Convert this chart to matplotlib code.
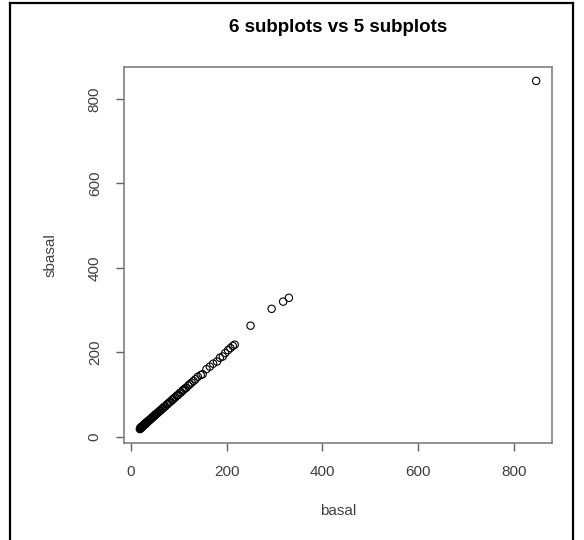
import matplotlib
matplotlib.use("Agg")
import matplotlib.pyplot as plt
from matplotlib.lines import Line2D

# basal vs sbasal counts
basal = [19, 20, 20, 21, 22, 22, 23, 24, 24, 25, 26, 26, 27, 28, 28, 29, 30,
         31, 31, 32, 33, 34, 35, 36, 37, 38, 39, 40, 41, 42, 43, 45, 46, 47,
         49, 50, 52, 53, 55, 56, 58, 60, 62, 64, 66, 68, 70, 72, 75, 77, 80,
         83, 86, 88, 90, 93, 96, 99, 102, 105, 108, 110, 113, 116, 120, 123,
         127, 131, 135, 140, 146, 150, 158, 165, 172, 180, 186, 192, 197, 203,
         208, 213, 217, 250, 294, 318, 330, 846]
sbasal = [18, 19, 21, 21, 21, 23, 23, 23, 25, 25, 26, 27, 27, 28, 29, 29, 30,
          30, 32, 33, 33, 34, 36, 36, 37, 39, 39, 40, 41, 43, 43, 45, 47, 47,
          49, 51, 52, 54, 55, 57, 58, 61, 62, 64, 67, 68, 71, 72, 76, 77, 81,
          83, 87, 88, 91, 93, 97, 99, 103, 105, 109, 111, 114, 116, 121, 124,
          128, 132, 136, 142, 146, 148, 160, 166, 173, 178, 187, 190, 198, 205,
          210, 215, 218, 263, 303, 320, 329, 843]

W, H = 584, 540
fig = plt.figure(figsize=(W / 100, H / 100), dpi=100)
plt.rcParams['font.family'] = ['Liberation Sans', 'DejaVu Sans']

ax = fig.add_axes([124 / W, (H - 443) / H, 428 / W, 376 / H])
ax.scatter(basal, sbasal, s=28, facecolors='none', edgecolors='black',
           linewidths=0.8, zorder=3)

# R-style 4% padding around the data range
def padded(v):
    lo, hi = min(v), max(v)
    d = (hi - lo) * 0.04
    return lo - d, hi + d

ax.set_xlim(*padded(basal))
ax.set_ylim(*padded(sbasal))
ticks = [0, 200, 400, 600, 800]
ax.set_xticks(ticks)
ax.set_yticks(ticks)
ax.set_yticklabels([str(t) for t in ticks], rotation=90, va='center')

for sp in ax.spines.values():
    sp.set_color('#808080')
    sp.set_linewidth(1.2)
ax.tick_params(direction='out', length=6, width=1.0, color='#606060',
               labelsize=11, labelcolor='#404040', pad=10)

ax.set_xlabel('basal', fontsize=11, color='#404040', labelpad=18)
ax.set_ylabel('sbasal', fontsize=11, color='#404040', labelpad=22)
fig.text(338 / W, 1 - 27 / H, '6 subplots vs 5 subplots', ha='center',
         va='center', fontsize=13.5, fontweight='bold')

# outer frame around the figure
frame = dict(color='black', linewidth=1.6, transform=fig.transFigure)
fig.add_artist(Line2D([10 / W, 10 / W], [0, 1 - 3 / H], **frame))
fig.add_artist(Line2D([10 / W, 573 / W], [1 - 3 / H, 1 - 3 / H], **frame))
fig.add_artist(Line2D([573 / W, 573 / W], [0, 1 - 3 / H], **frame))

fig.savefig('out.png', dpi=100)
